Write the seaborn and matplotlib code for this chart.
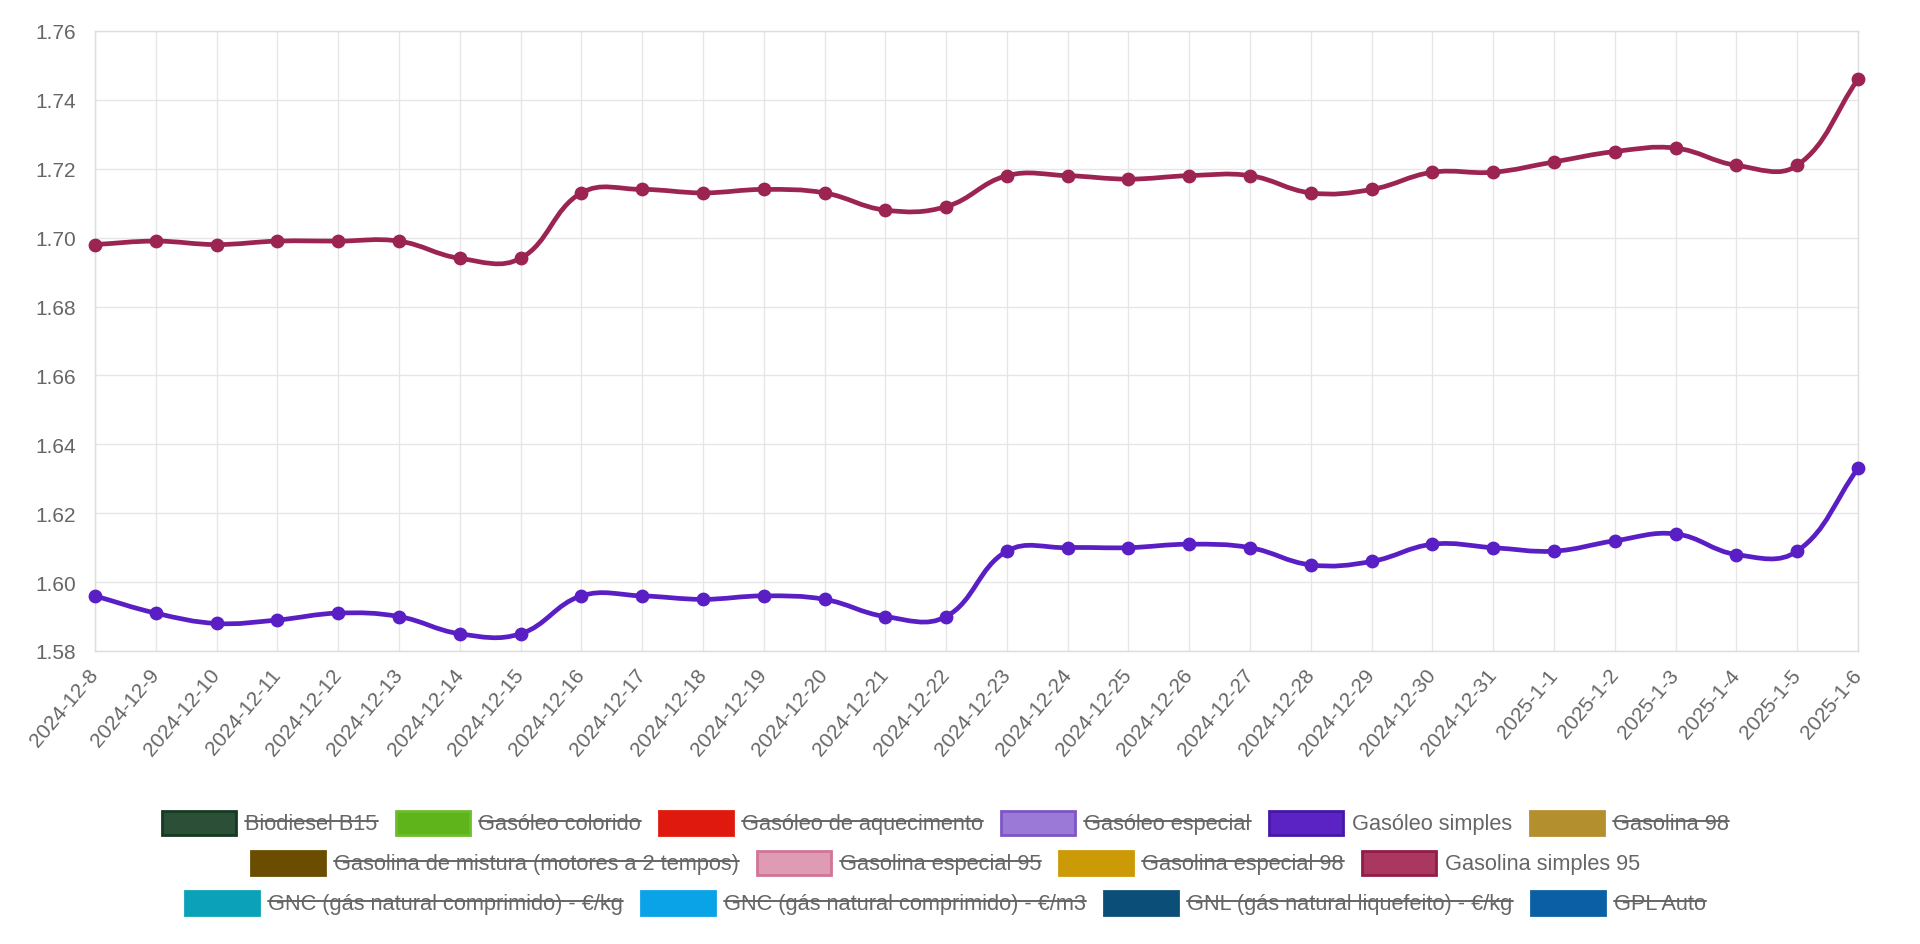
import numpy as np
import matplotlib
matplotlib.use('Agg')
import matplotlib.pyplot as plt
import seaborn as sns
from matplotlib.path import Path
from matplotlib.patches import PathPatch, Rectangle
from matplotlib.lines import Line2D

# 데이터
dates = ['2024-12-8', '2024-12-9', '2024-12-10', '2024-12-11', '2024-12-12', '2024-12-13',
         '2024-12-14', '2024-12-15', '2024-12-16', '2024-12-17', '2024-12-18', '2024-12-19',
         '2024-12-20', '2024-12-21', '2024-12-22', '2024-12-23', '2024-12-24', '2024-12-25',
         '2024-12-26', '2024-12-27', '2024-12-28', '2024-12-29', '2024-12-30', '2024-12-31',
         '2025-1-1', '2025-1-2', '2025-1-3', '2025-1-4', '2025-1-5', '2025-1-6']

gasolina_simples_95 = [1.698, 1.699, 1.698, 1.699, 1.699, 1.699, 1.694, 1.694, 1.713, 1.714,
                       1.713, 1.714, 1.713, 1.708, 1.709, 1.718, 1.718, 1.717, 1.718, 1.718,
                       1.713, 1.714, 1.719, 1.719, 1.722, 1.725, 1.726, 1.721, 1.721, 1.746]

gasoleo_simples = [1.596, 1.591, 1.588, 1.589, 1.591, 1.590, 1.585, 1.585, 1.596, 1.596,
                   1.595, 1.596, 1.595, 1.590, 1.590, 1.609, 1.610, 1.610, 1.611, 1.610,
                   1.605, 1.606, 1.611, 1.610, 1.609, 1.612, 1.614, 1.608, 1.609, 1.633]

legend_rows = [
    ['Biodiesel B15', 'Gasóleo colorido', 'Gasóleo de aquecimento', 'Gasóleo especial',
     'Gasóleo simples', 'Gasolina 98'],
    ['Gasolina de mistura (motores a 2 tempos)', 'Gasolina especial 95', 'Gasolina especial 98',
     'Gasolina simples 95'],
    ['GNC (gás natural comprimido) - €/kg', 'GNC (gás natural comprimido) - €/m3',
     'GNL (gás natural liquefeito) - €/kg', 'GPL Auto'],
]
visible = ['Gasóleo simples', 'Gasolina simples 95']

# 색상 (fill, border)
box_colors = {
    'Biodiesel B15': ('#2b4f37', '#163a20'),
    'Gasóleo colorido': ('#5fb41b', '#6cbd2c'),
    'Gasóleo de aquecimento': ('#e0190f', '#e0190f'),
    'Gasóleo especial': ('#9a7ad6', '#7d56c6'),
    'Gasóleo simples': ('#5b22c4', '#4616a8'),
    'Gasolina 98': ('#b38f2e', '#b38f2e'),
    'Gasolina de mistura (motores a 2 tempos)': ('#6b4d00', '#6b4d00'),
    'Gasolina especial 95': ('#df9bb3', '#d17496'),
    'Gasolina especial 98': ('#cc9a06', '#cc9a06'),
    'Gasolina simples 95': ('#a9375f', '#931c47'),
    'GNC (gás natural comprimido) - €/kg': ('#0ba2b9', '#0ba2b9'),
    'GNC (gás natural comprimido) - €/m3': ('#0aa3e8', '#0aa3e8'),
    'GNL (gás natural liquefeito) - €/kg': ('#0b4f78', '#0b4f78'),
    'GPL Auto': ('#0b5fa5', '#0b5fa5'),
}
line_colors = {'Gasolina simples 95': '#9c2452', 'Gasóleo simples': '#5a1ec5'}

sns.set_theme(style='white')
plt.rcParams['font.family'] = ['Liberation Sans', 'DejaVu Sans']

W, H = 1920, 945
fig = plt.figure(figsize=(W / 100, H / 100), dpi=100)
fig.patch.set_facecolor('white')

# 축 영역 (픽셀 기준)
left, right, top, bottom = 95, 1858, 32, 652
ax = fig.add_axes([left / W, (H - bottom) / H, (right - left) / W, (bottom - top) / H])

x = np.arange(len(dates))
ymin, ymax = 1.58, 1.76
ax.set_xlim(0, len(dates) - 1)
ax.set_ylim(ymin, ymax)

# Chart.js 스타일 bezier 곡선
sx = (right - left) / (len(dates) - 1)
sy = (bottom - top) / (ymax - ymin)


def spline_path(xs, ys, t=0.4):
    P = np.column_stack([np.asarray(xs, float) * sx, np.asarray(ys, float) * sy])
    n = len(P)
    cp_prev, cp_next = np.zeros_like(P), np.zeros_like(P)
    for i in range(n):
        prev = P[i - 1] if i > 0 else P[i]
        nxt = P[i + 1] if i < n - 1 else P[i]
        d01 = np.hypot(*(P[i] - prev))
        d12 = np.hypot(*(nxt - P[i]))
        tot = d01 + d12
        s01 = d01 / tot if tot else 0
        s12 = d12 / tot if tot else 0
        cp_prev[i] = P[i] - t * s01 * (nxt - prev)
        cp_next[i] = P[i] + t * s12 * (nxt - prev)
    verts = [P[0]]
    codes = [Path.MOVETO]
    for i in range(n - 1):
        verts += [cp_next[i], cp_prev[i + 1], P[i + 1]]
        codes += [Path.CURVE4] * 3
    verts = np.array(verts) / [sx, sy]
    return Path(verts, codes)


for name, ys in [('Gasóleo simples', gasoleo_simples), ('Gasolina simples 95', gasolina_simples_95)]:
    c = line_colors[name]
    ax.add_patch(PathPatch(spline_path(x, ys), facecolor='none', edgecolor=c, lw=3.4,
                           capstyle='round', joinstyle='round', zorder=3))
    sns.scatterplot(x=x, y=ys, ax=ax, color=c, s=80, edgecolor=c, linewidth=1, zorder=4,
                    legend=False, clip_on=False)

# 격자 및 축
grid_c = '#e6e6e6'
ax.set_xticks(x)
ax.set_xticklabels(dates, rotation=50, ha='right', va='center', rotation_mode='anchor')
ax.set_yticks(np.round(np.arange(ymin, ymax + 0.001, 0.02), 2))
ax.set_yticklabels([f'{v:.2f}' for v in np.arange(ymin, ymax + 0.001, 0.02)])
ax.grid(True, color=grid_c, lw=1)
ax.tick_params(axis='both', which='both', direction='out', length=8.5, width=1,
               color=grid_c, labelcolor='#666666', labelsize=15)
ax.tick_params(axis='x', pad=6)
ax.tick_params(axis='y', pad=5)
for sp in ax.spines.values():
    sp.set_color('#dddddd')
    sp.set_linewidth(1)
ax.set_xlabel('')
ax.set_ylabel('')

# 범례 (Chart.js 방식, 가운데 정렬 행)
fig.canvas.draw()
renderer = fig.canvas.get_renderer()
fs = 15.7
fs_px = fs * 100 / 72
box_w, box_h = 76, 26
gap_text, gap_item = 8, 17
center_x = 945
row_centers = [824, 864, 904]


def px(xp, yp):
    return xp / W, (H - yp) / H


for row, yc in zip(legend_rows, row_centers):
    widths = []
    for lab in row:
        t = fig.text(0, 0, lab, fontsize=fs)
        widths.append(t.get_window_extent(renderer).width)
        t.remove()
    total = sum(box_w + gap_text + w + gap_item for w in widths) - gap_item
    xcur = center_x - total / 2
    for lab, w in zip(row, widths):
        fc, ec = box_colors[lab]
        fig.add_artist(Rectangle(px(xcur + 1, yc + box_h / 2 - 1), (box_w - 2) / W, (box_h - 2) / H,
                                 transform=fig.transFigure, facecolor=fc, edgecolor=ec, lw=2))
        tx = xcur + box_w + gap_text
        base = yc + 6
        fig.text(*px(tx, base), lab, fontsize=fs, color='#666666', ha='left', va='baseline')
        if lab not in visible:
            ys_ = base - 0.36 * fs_px
            fig.add_artist(Line2D([tx / W, (tx + w) / W], [(H - ys_) / H] * 2,
                                  transform=fig.transFigure, color='#666666', lw=1.4))
        xcur += box_w + gap_text + w + gap_item

fig.savefig('out.png', dpi=100, facecolor='white')
